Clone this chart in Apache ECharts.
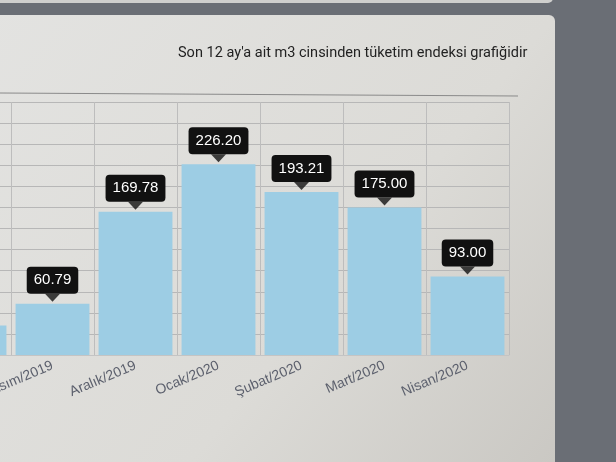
<!DOCTYPE html>
<html>
<head>
<meta charset="utf-8" />
<title>Tüketim endeksi</title>
<script src="https://cdn.jsdelivr.net/npm/echarts@6/dist/echarts.min.js"></script>
<style>
  html, body { margin: 0; padding: 0; background: #6a6e75; }
  #chart { width: 616px; height: 462px; }
</style>
</head>
<body>
<div id="chart"></div>
<script>
// son aylar (ilk kategori resmin solunda kesik)
var months = ['Ekim/2019', 'Kasım/2019', 'Aralık/2019', 'Ocak/2020', 'Şubat/2020', 'Mart/2020', 'Nisan/2020'];
var usage = [35, 60.79, 169.78, 226.20, 193.21, 175.00, 93.00];
var yTicks = { min: 0, max: 300, step: 25 };
var titleText = "Son 12 ay'a ait m3 cinsinden tüketim endeksi grafiğidir";

var chart = echarts.init(document.getElementById('chart'));

var option = {
  backgroundColor: '#6a6e75',
  animation: false,
  graphic: [
    { // ust kart kenari
      type: 'rect', z: -10,
      shape: { x: -20, y: -30, width: 573, height: 33, r: 5 },
      style: { fill: '#cfcfcd' }
    },
    { // grafik karti
      type: 'rect', z: -10,
      shape: { x: -20, y: 15, width: 575, height: 470, r: 6 },
      style: {
        fill: new echarts.graphic.LinearGradient(0, 0, 1, 1, [
          { offset: 0, color: '#e3e3e1' },
          { offset: 0.6, color: '#dcdbd7' },
          { offset: 1, color: '#c9c7c2' }
        ])
      }
    },
    { // baslik alti cizgi
      type: 'line', z: -5,
      shape: { x1: 0, y1: 93, x2: 518, y2: 96 },
      style: { stroke: '#8a8a8a', lineWidth: 1 }
    }
  ],
  title: {
    text: titleText,
    left: 178,
    top: 46,
    padding: 0,
    textStyle: {
      color: '#222',
      fontSize: 14.5,
      fontWeight: 'normal',
      fontFamily: 'Roboto'
    }
  },
  grid: {
    left: -72,
    right: 107,
    top: 102,
    bottom: 107,
    outerBoundsMode: 'none',
    containLabel: false
  },
  xAxis: {
    type: 'category',
    data: months,
    boundaryGap: true,
    axisLine: { lineStyle: { color: '#c4c4c4' } },
    axisTick: { show: false },
    splitLine: { show: true, lineStyle: { color: '#bdbdbd' } },
    axisLabel: {
      rotate: 23,
      margin: 10,
      color: '#5c606d',
      fontSize: 14,
      fontFamily: 'Liberation Sans'
    }
  },
  yAxis: {
    type: 'value',
    min: yTicks.min,
    max: yTicks.max,
    interval: yTicks.step,
    axisLabel: { show: false },
    axisLine: { show: false },
    axisTick: { show: false },
    splitLine: { lineStyle: { color: '#b7b7b7' } }
  },
  series: [
    {
      type: 'bar',
      data: usage,
      barCategoryGap: '11%',
      itemStyle: { color: '#9dcde4' },
      label: {
        show: true,
        position: 'top',
        distance: 10,
        formatter: function (p) { return p.value.toFixed(2); },
        color: '#fff',
        fontSize: 15,
        lineHeight: 15,
        fontFamily: 'Liberation Sans',
        backgroundColor: '#111',
        borderRadius: 4,
        padding: [6, 7, 6, 7]
      }
    },
    { // etiket oku
      type: 'scatter',
      data: usage,
      symbol: 'triangle',
      symbolRotate: 180,
      symbolSize: [15, 8],
      symbolOffset: [0, -6],
      itemStyle: { color: '#111' },
      z: 5,
      silent: true
    }
  ]
};

chart.setOption(option);
</script>
</body>
</html>
